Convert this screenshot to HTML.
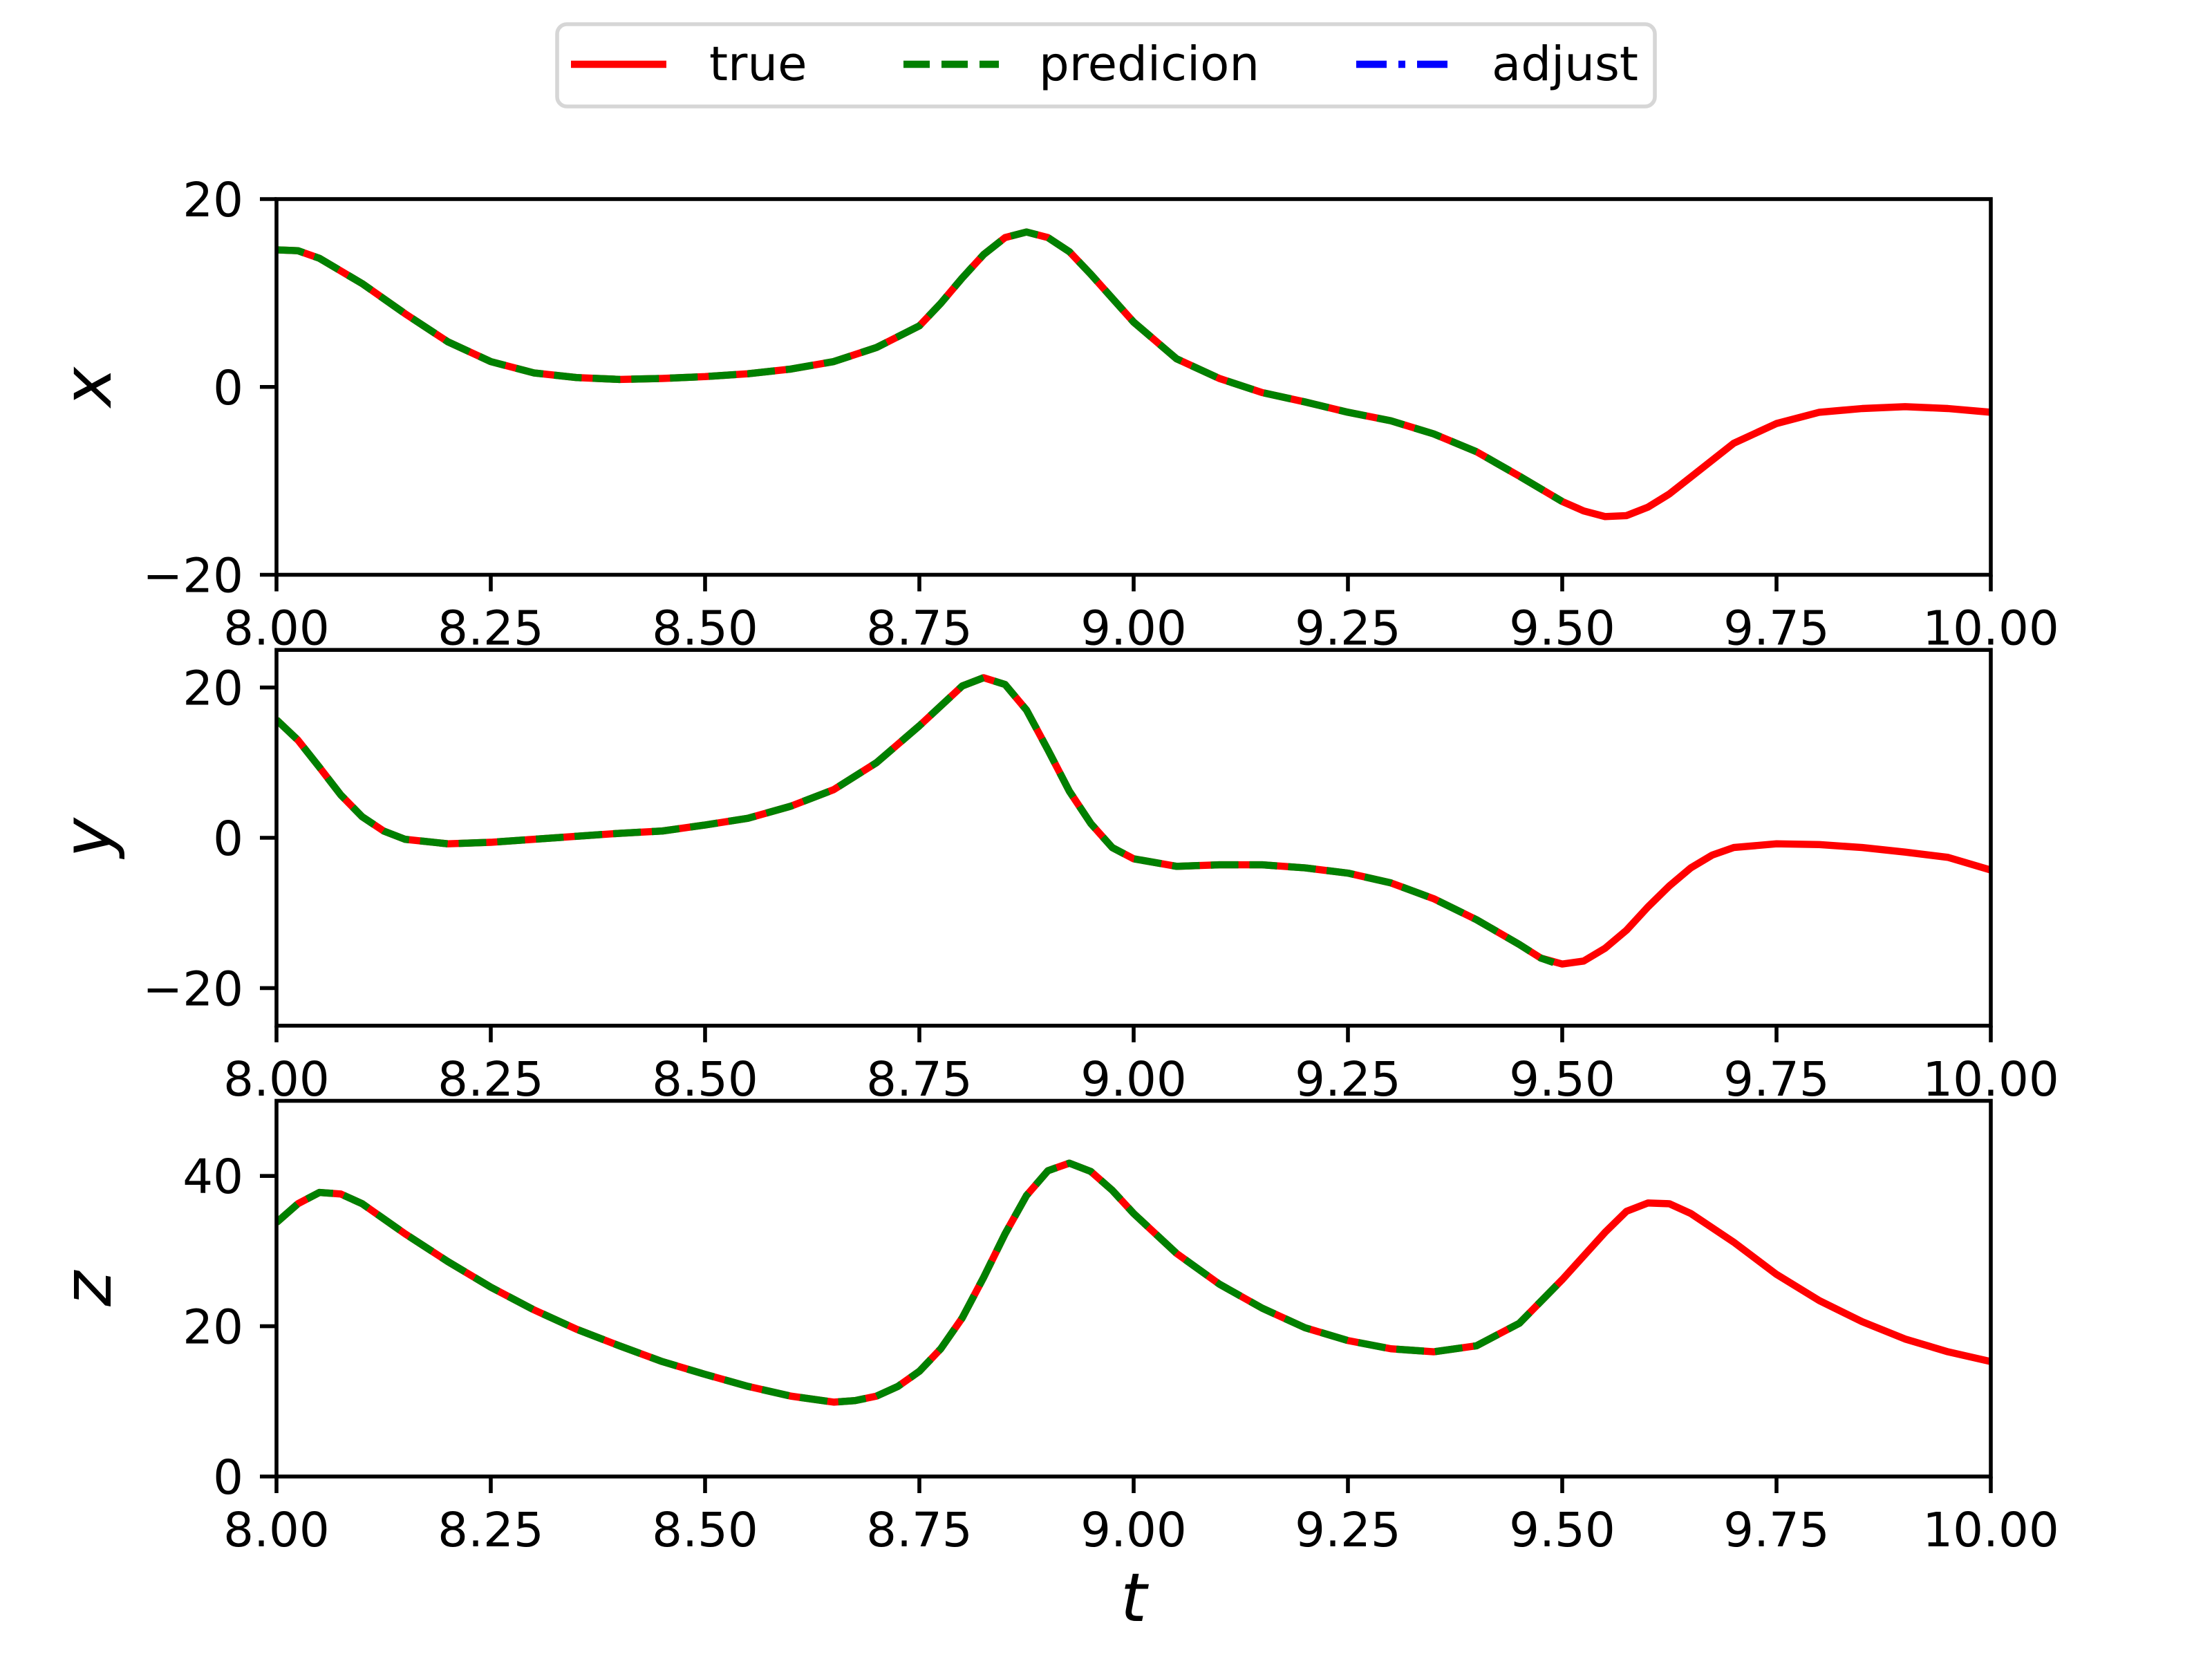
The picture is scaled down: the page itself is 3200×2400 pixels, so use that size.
<!DOCTYPE html>
<html><head><meta charset="utf-8"><style>
html,body{margin:0;padding:0;background:#fff;}
svg{display:block;}
text{font-family:"DejaVu Sans","Liberation Sans",sans-serif;fill:#000;}
</style></head><body>
<svg id="fig" width="3200" height="2400" viewBox="0 0 3200 2400" xmlns="http://www.w3.org/2000/svg"></svg>
<script>
// ---- data ----
const tX = [8.00,8.025,8.05,8.10,8.15,8.20,8.25,8.30,8.35,8.40,8.45,8.50,8.55,8.60,8.65,8.70,8.75,8.775,8.80,8.825,8.85,8.875,8.90,8.925,8.95,9.00,9.05,9.10,9.15,9.20,9.25,9.30,9.35,9.40,9.45,9.50,9.525,9.55,9.575,9.60,9.625,9.65,9.70,9.75,9.80,9.85,9.90,9.95,10.0];
const xTrue = [14.6,14.5,13.7,11.0,7.8,4.8,2.7,1.5,1.0,0.8,0.9,1.1,1.4,1.9,2.7,4.2,6.5,8.9,11.6,14.1,15.9,16.5,15.9,14.4,12.0,6.9,3.0,0.9,-0.6,-1.6,-2.7,-3.6,-5.0,-6.9,-9.5,-12.2,-13.2,-13.8,-13.7,-12.8,-11.4,-9.6,-6.0,-3.9,-2.7,-2.3,-2.1,-2.3,-2.7];
const tXPred = [8.00,8.025,8.05,8.10,8.15,8.20,8.25,8.30,8.35,8.40,8.45,8.50,8.55,8.60,8.65,8.70,8.75,8.775,8.80,8.825,8.85,8.875,8.90,8.925,8.95,9.00,9.05,9.10,9.15,9.20,9.25,9.30,9.35,9.40,9.45,9.50];
const xPred = [14.6,14.5,13.7,11.0,7.8,4.8,2.7,1.5,1.0,0.8,0.9,1.1,1.4,1.9,2.7,4.2,6.5,8.9,11.6,14.1,15.9,16.5,15.9,14.4,12.0,6.9,3.0,0.9,-0.6,-1.6,-2.7,-3.6,-5.0,-6.9,-9.5,-12.2];

const tY = [8.00,8.025,8.05,8.075,8.10,8.125,8.15,8.20,8.25,8.30,8.35,8.40,8.45,8.50,8.55,8.60,8.65,8.70,8.75,8.80,8.825,8.85,8.875,8.90,8.925,8.95,8.975,9.00,9.05,9.10,9.15,9.20,9.25,9.30,9.35,9.40,9.45,9.475,9.50,9.525,9.55,9.575,9.60,9.625,9.65,9.675,9.70,9.75,9.80,9.85,9.90,9.95,10.0];
const yTrue = [15.7,13.0,9.4,5.7,2.8,0.9,-0.2,-0.8,-0.6,-0.2,0.2,0.6,0.9,1.7,2.6,4.2,6.4,10.0,14.9,20.2,21.3,20.4,17.0,11.7,6.2,1.9,-1.3,-2.8,-3.8,-3.6,-3.6,-4.0,-4.7,-6.0,-8.1,-10.9,-14.2,-16.0,-16.8,-16.4,-14.7,-12.3,-9.2,-6.4,-4.0,-2.3,-1.3,-0.8,-0.9,-1.3,-1.9,-2.6,-4.3];
const tYPred = [8.00,8.025,8.05,8.075,8.10,8.125,8.15,8.20,8.25,8.30,8.35,8.40,8.45,8.50,8.55,8.60,8.65,8.70,8.75,8.80,8.825,8.85,8.875,8.90,8.925,8.95,8.975,9.00,9.05,9.10,9.15,9.20,9.25,9.30,9.35,9.40,9.45,9.475,9.49];
const yPred = [15.7,13.0,9.4,5.7,2.8,0.9,-0.2,-0.8,-0.6,-0.2,0.2,0.6,0.9,1.7,2.6,4.2,6.4,10.0,14.9,20.2,21.3,20.4,17.0,11.7,6.2,1.9,-1.3,-2.8,-3.8,-3.6,-3.6,-4.0,-4.7,-6.0,-8.1,-10.9,-14.2,-16.0,-16.6];

const tZ = [8.00,8.025,8.05,8.075,8.10,8.15,8.20,8.25,8.30,8.35,8.40,8.45,8.50,8.55,8.60,8.65,8.675,8.70,8.725,8.75,8.775,8.80,8.825,8.85,8.875,8.90,8.925,8.95,8.975,9.00,9.05,9.10,9.15,9.20,9.25,9.30,9.35,9.40,9.45,9.50,9.55,9.575,9.60,9.625,9.65,9.70,9.75,9.80,9.85,9.90,9.95,10.0];
const zTrue = [33.8,36.3,37.8,37.6,36.3,32.3,28.6,25.2,22.2,19.6,17.4,15.3,13.6,12.0,10.7,9.9,10.1,10.7,12.0,14.0,17.0,21.1,26.5,32.3,37.4,40.7,41.7,40.6,38.1,35.0,29.7,25.6,22.4,19.8,18.1,17.0,16.6,17.4,20.4,26.2,32.5,35.3,36.4,36.3,35.0,31.2,26.9,23.4,20.6,18.3,16.6,15.3];
const tZPred = [8.00,8.025,8.05,8.075,8.10,8.15,8.20,8.25,8.30,8.35,8.40,8.45,8.50,8.55,8.60,8.65,8.675,8.70,8.725,8.75,8.775,8.80,8.825,8.85,8.875,8.90,8.925,8.95,8.975,9.00,9.05,9.10,9.15,9.20,9.25,9.30,9.35,9.40,9.45,9.50];
const zPred = [33.8,36.3,37.8,37.6,36.3,32.3,28.6,25.2,22.2,19.6,17.4,15.3,13.6,12.0,10.7,9.9,10.1,10.7,12.0,14.0,17.0,21.1,26.5,32.3,37.4,40.7,41.7,40.6,38.1,35.0,29.7,25.6,22.4,19.8,18.1,17.0,16.6,17.4,20.4,26.2];

const xTicks = [8.00,8.25,8.50,8.75,9.00,9.25,9.50,9.75,10.00];
const xTickLabels = ["8.00","8.25","8.50","8.75","9.00","9.25","9.50","9.75","10.00"];
const yTicks1 = [-20,0,20], yTickLabels1 = ["\u221220","0","20"];
const yTicks2 = [-20,0,20], yTickLabels2 = ["\u221220","0","20"];
const yTicks3 = [0,20,40], yTickLabels3 = ["0","20","40"];
const legendLabels = ["true","predicion","adjust"];

// ---- drawing ----
const NS = "http://www.w3.org/2000/svg";
const svg = document.getElementById("fig");
function mk(tag, attrs, parent){
  const e = document.createElementNS(NS, tag);
  for (const k in attrs) e.setAttribute(k, attrs[k]);
  (parent||svg).appendChild(e);
  return e;
}
const L = 400, R = 2880;
const panels = [
  {top:288, bot:831.5, ymin:-20, ymax:20, t:tX, v:xTrue, tp:tXPred, vp:xPred, ticks:yTicks1, labels:yTickLabels1, lab:"x", name:"x"},
  {top:940.2, bot:1483.8, ymin:-25, ymax:25, t:tY, v:yTrue, tp:tYPred, vp:yPred, ticks:yTicks2, labels:yTickLabels2, lab:"y", name:"y"},
  {top:1592.5, bot:2136, ymin:0, ymax:50, t:tZ, v:zTrue, tp:tZPred, vp:zPred, ticks:yTicks3, labels:yTickLabels3, lab:"z", name:"z"}
];
const sx = t => L + (t-8)/(10-8)*(R-L);

panels.forEach((p, i) => {
  const g = mk("g", {});
  
  
  const sy = v => p.bot - (v-p.ymin)/(p.ymax-p.ymin)*(p.bot-p.top);
  const clipId = "clip"+i;
  const cp = mk("clipPath", {id:clipId}, g);
  mk("rect", {x:L, y:p.top, width:R-L, height:p.bot-p.top}, cp);
  const pts = (ts, vs) => ts.map((t,k)=> sx(t).toFixed(1)+","+sy(vs[k]).toFixed(1)).join(" ");
  const tl = mk("polyline", {points:pts(p.t,p.v), fill:"none", stroke:"#ff0000", "stroke-width":10.4, "stroke-linejoin":"round", "clip-path":"url(#"+clipId+")"}, g);
  
  
  const pl = mk("polyline", {points:pts(p.tp,p.vp), fill:"none", stroke:"#008000", "stroke-width":10.4, "stroke-dasharray":"40 16", "stroke-linejoin":"round", "clip-path":"url(#"+clipId+")"}, g);
  
  
  const fr = mk("rect", {x:L, y:p.top, width:R-L, height:p.bot-p.top, fill:"none", stroke:"#000", "stroke-width":5.6}, g);
  
  
  xTicks.forEach((t,k) => {
    mk("line", {x1:sx(t), x2:sx(t), y1:p.bot, y2:p.bot+24, stroke:"#000", "stroke-width":5.6}, g);
    const tx = mk("text", {x:sx(t), y:p.bot+101, "font-size":69, "text-anchor":"middle"}, g);
    tx.textContent = xTickLabels[k];
    
    
  });
  p.ticks.forEach((v,k) => {
    mk("line", {x1:L-24, x2:L, y1:sy(v), y2:sy(v), stroke:"#000", "stroke-width":5.6}, g);
    const tx = mk("text", {x:L-48, y:sy(v)+25, "font-size":69, "text-anchor":"end"}, g);
    tx.textContent = p.labels[k];
    
    
  });
  const yl = mk("text", {x:0, y:0, "font-size":97, "font-style":"italic", "text-anchor":"middle", transform:"translate(160,"+((p.top+p.bot)/2)+") rotate(-90)"}, g);
  yl.textContent = p.lab;
  
  
});
const xt = mk("text", {x:1640, y:2345, "font-size":97, "font-style":"italic", "text-anchor":"middle"});
xt.textContent = "t";



// legend
const lg = mk("g", {});


mk("rect", {x:806, y:35, width:1588, height:119, rx:14, fill:"#fff", stroke:"#d6d6d6", "stroke-width":5.6}, lg);
const legStyles = [
  {stroke:"#ff0000", dash:"none", x:826, tx:1026},
  {stroke:"#008000", dash:"38 17", x:1307, tx:1503},
  {stroke:"#0000ff", dash:"44 17 10 17", x:1962, tx:2158}
];
legStyles.forEach((s,k) => {
  const ln = mk("line", {x1:s.x, x2:s.x+138, y1:93, y2:93, stroke:s.stroke, "stroke-width":10.4, "stroke-dasharray":s.dash}, lg);
  
  
  const tx = mk("text", {x:s.tx, y:116, "font-size":69}, lg);
  tx.textContent = legendLabels[k];
  
  
});
</script>
</body></html>
